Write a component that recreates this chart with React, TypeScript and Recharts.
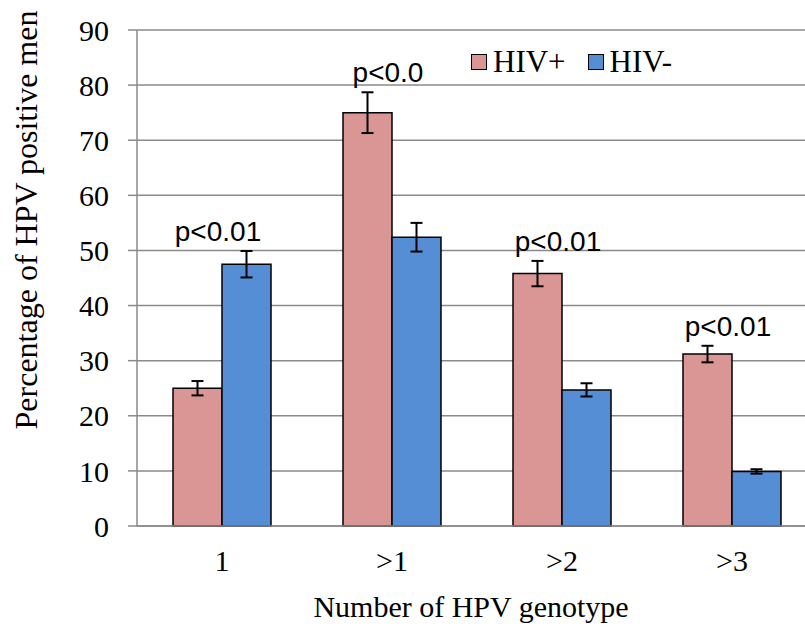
import React from 'react';
import { BarChart, Bar, XAxis, YAxis, CartesianGrid, ErrorBar, LabelList, Legend, Label } from 'recharts';

const categories = ['1', '>1', '>2', '>3'];
const hivPos = [25, 75, 45.8, 31.2];
const hivPosErr = [1.3, 3.7, 2.3, 1.5];
const hivNeg = [47.5, 52.4, 24.7, 9.9];
const hivNegErr = [2.4, 2.6, 1.2, 0.4];
const pLabels = ['p<0.01', 'p<0.0', 'p<0.01', 'p<0.01'];
const yTicks = [0, 10, 20, 30, 40, 50, 60, 70, 80, 90];

const PINK = '#D99694';
const BLUE = '#558ED5';
const GRID = '#8a8a8a';
const SERIF = '"Liberation Serif", "Times New Roman", serif';
const SANS = '"Liberation Sans", Arial, sans-serif';

const data = categories.map((name, i) => ({
  name,
  hivPos: hivPos[i],
  hivPosErr: hivPosErr[i],
  hivNeg: hivNeg[i],
  hivNegErr: hivNegErr[i],
  p: pLabels[i],
}));

const legendItems = [
  { label: 'HIV+', color: PINK },
  { label: 'HIV-', color: BLUE },
];

const PLabel = (props: any) => {
  const { x, y, height, index, value } = props;
  const d = data[index];
  const perUnit = height / d.hivNeg;
  const bottom = y + height;
  const top = Math.max(d.hivPos + d.hivPosErr, d.hivNeg + d.hivNegErr);
  return (
    <text
      x={x - 4}
      y={bottom - top * perUnit - 10}
      textAnchor="middle"
      fontFamily={SANS}
      fontSize={28}
      fill="#000"
    >
      {value}
    </text>
  );
};

const renderLegend = () => (
  <div style={{ display: 'flex', alignItems: 'center', fontFamily: SERIF, fontSize: 31 }}>
    {legendItems.map((it) => (
      <div key={it.label} style={{ display: 'flex', alignItems: 'center', marginRight: 22 }}>
        <span
          style={{
            width: 14,
            height: 14,
            background: it.color,
            border: '1.5px solid #000',
            marginRight: 6,
            display: 'inline-block',
          }}
        />
        <span>{it.label}</span>
      </div>
    ))}
  </div>
);

export default function App() {
  return (
    <div style={{ position: 'absolute', left: 0, top: 0, width: 805, height: 627, overflow: 'hidden', background: '#fff' }}>
      <BarChart
        width={830}
        height={627}
        data={data}
        margin={{ top: 30, right: 13, left: 0, bottom: 0 }}
        barCategoryGap={36}
        barGap={0}
      >
        <CartesianGrid vertical={false} stroke={GRID} strokeWidth={1.5} />
        <XAxis
          dataKey="name"
          height={101}
          axisLine={{ stroke: GRID, strokeWidth: 1.5 }}
          tickLine={false}
          tickSize={6}
          tickMargin={18}
          tick={{ fontFamily: SERIF, fontSize: 30, fill: '#000' }}
        >
          <Label
            content={(p: any) => (
              <text
                x={p.viewBox.x + p.viewBox.width / 2 - 6}
                y={p.viewBox.y + 91}
                textAnchor="middle"
                fontFamily={SERIF}
                fontSize={30}
                fill="#000"
              >
                Number of HPV genotype
              </text>
            )}
          />
        </XAxis>
        <YAxis
          width={137}
          domain={[0, 90]}
          ticks={yTicks}
          interval={0}
          axisLine={{ stroke: GRID, strokeWidth: 1.5 }}
          tickLine={{ stroke: GRID, strokeWidth: 1.5 }}
          tickSize={9}
          tickMargin={19}
          tick={{ fontFamily: SERIF, fontSize: 30, fill: '#000' }}
        >
          <Label
            content={() => (
              <text
                x={0}
                y={0}
                transform="translate(37, 220) rotate(-90)"
                textAnchor="middle"
                fontFamily={SERIF}
                fontSize={32}
                fill="#000"
              >
                Percentage of HPV positive men
              </text>
            )}
          />
        </YAxis>
        <Legend
          layout="horizontal"
          verticalAlign="middle"
          align="center"
          content={renderLegend}
          wrapperStyle={{ top: 44, left: 471, width: 'auto' }}
        />
        <Bar dataKey="hivPos" name="HIV+" fill={PINK} stroke="#000" strokeWidth={1.5} isAnimationActive={false}>
          <ErrorBar dataKey="hivPosErr" width={6} stroke="#000" strokeWidth={2} />
        </Bar>
        <Bar dataKey="hivNeg" name="HIV-" fill={BLUE} stroke="#000" strokeWidth={1.5} isAnimationActive={false}>
          <ErrorBar dataKey="hivNegErr" width={6} stroke="#000" strokeWidth={2} />
          <LabelList dataKey="p" content={PLabel} />
        </Bar>
      </BarChart>
    </div>
  );
}
